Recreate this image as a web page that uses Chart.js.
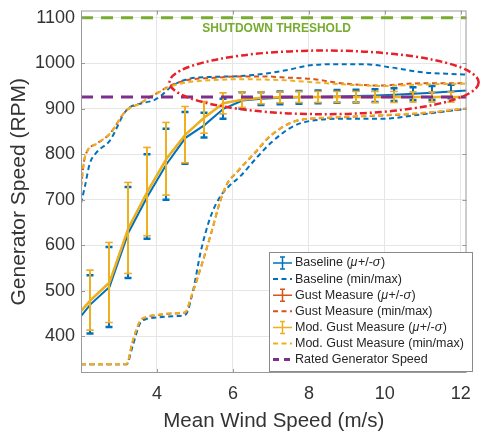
<!DOCTYPE html>
<html>
<head>
<meta charset="utf-8">
<script src="https://cdn.jsdelivr.net/npm/chart.js@4.4.1/dist/chart.umd.min.js"></script>
<style>
html, body { margin: 0; padding: 0; background: #fff; }
#wrap { width: 481px; height: 432px; }
</style>
</head>
<body>
<div id="wrap"><canvas id="myChart" width="481" height="432"></canvas></div>
<script>
// wind speed bins (first and last are the plot edges, no error bar there)
let windSpeed = [2, 2.25, 2.75, 3.25, 3.75, 4.25, 4.75, 5.25, 5.75, 6.25, 6.75, 7.25, 7.75, 8.25, 8.75, 9.25, 9.75, 10.25, 10.75, 11.25, 11.75, 12.15]

let baseMean = [444, 470, 508, 628, 707, 778, 836, 864, 900, 918, 922, 924, 925, 926, 927, 928, 929, 931, 933, 935, 938, 940]
let baseStd = [null, 64, 88, 100, 93, 78, 57, 27, 22, 18, 14, 14, 14, 14, 14, 14, 14, 14, 14, 15, 15, null]
// gust measure mean sits under the modified one in the picture
let gustMean = [455, 479, 518, 638, 718, 790, 843, 881, 912, 920, 924, 925, 926, 926, 926, 926, 926, 926, 926, 926, 926, 926]
let gustStd = [null, 66, 88, 100, 97, 80, 62, 35, 23, 17, 13, 12, 12, 12, 12, 12, 12, 12, 11, 11, 11, null]
let modMean = [455, 479, 518, 638, 718, 790, 843, 881, 912, 920, 924, 925, 926, 926, 926, 926, 926, 926, 926, 926, 926, 926]
let modStd = [null, 66, 88, 100, 97, 80, 62, 35, 23, 17, 13, 12, 12, 12, 12, 12, 12, 12, 11, 11, 11, null]

// min / max envelopes
let baseMaxX = [2, 2.1, 2.23, 2.41, 2.76, 3.19, 3.71, 3.9, 4.1, 4.4, 4.85, 5.5, 6.2, 6.93, 7.54, 7.98, 8.67, 9.45, 10.15, 11.0, 11.9, 12.15]
let baseMax = [692, 728, 779, 804, 830, 896, 914, 918, 928, 950, 966, 970, 972, 978, 987, 995, 998, 998, 991, 980, 976, 975]
let gustMaxX = [2, 2.1, 2.41, 2.76, 3.19, 3.54, 3.8, 3.98, 4.35, 4.8, 5.5, 6.2, 6.9, 7.28, 8.15, 8.67, 9.3, 9.9, 10.6, 11.3, 12.15]
let gustMax = [728, 793, 823, 845, 896, 911, 925, 933, 951, 963, 968, 971, 971, 969, 965, 958, 953, 951, 955, 956, 956]
let modMax = [731, 793, 823, 845, 896, 911, 925, 933, 949, 958, 963, 965, 964, 963, 958, 955, 952, 950, 952, 954, 955]

let baseMinX = [2, 3.2, 3.35, 3.55, 3.7, 4.0, 4.5, 4.75, 4.95, 5.15, 5.4, 5.65, 5.9, 6.2, 6.6, 7.0, 7.6, 8.3, 9.0, 9.9, 11.0, 12.15]
let baseMin = [338, 338, 375, 428, 437, 441, 444, 447, 500, 585, 660, 705, 730, 752, 790, 825, 862, 876, 878, 878, 888, 900]
let gustMinX = [2, 3.2, 3.35, 3.55, 3.7, 4.0, 4.5, 4.75, 4.89, 5.19, 5.45, 5.67, 5.85, 6.1, 6.6, 7.0, 7.7, 8.57, 9.3, 9.9, 11.0, 12.15]
let gustMin = [338, 338, 385, 432, 441, 446, 450, 452, 483, 560, 633, 698, 735, 760, 805, 841, 874, 880, 883, 885, 890, 900]
let modMin = [339, 339, 386, 433, 442, 447, 451, 453, 484, 561, 634, 699, 736, 761, 806, 842, 874, 881, 884, 886, 891, 901]

let ratedSpeed = 926
let shutdownSpeed = 1100
let xRange = [2, 12.15]
let xTickValues = [4, 6, 8, 10, 12]
let yTickValues = [400, 500, 600, 700, 800, 900, 1000, 1100]

let blue = '#0072bd', orange = '#d95319', yellow = '#edb120', purple = '#7e2f8e', green = '#77ac30'
let font = "'Liberation Sans', Arial, Helvetica, sans-serif"

let pts = (xs, ys) => xs.map((x, i) => ({x: x, y: ys[i]}))

let meanLine = (label, ys, std, color, order, width, cap) => ({
    label: label, data: pts(windSpeed, ys), errStd: std, capWidth: cap,
    borderColor: color, borderWidth: width, pointRadius: 0, tension: 0, order: order
})
let envLine = (label, xs, ys, color, order) => ({
    label: label, data: pts(xs, ys), borderColor: color, borderWidth: 2, borderDash: [5, 3.5],
    pointRadius: 0, cubicInterpolationMode: 'monotone', order: order
})

let errorBars = {
    id: 'errorBars',
    afterDatasetDraw(chart, args) {
        let ds = chart.data.datasets[args.index]
        if (!ds.errStd) return
        let ctx = chart.ctx, xs = chart.scales.x, ys = chart.scales.y
        ctx.save()
        ctx.strokeStyle = ds.borderColor
        ds.data.forEach((p, i) => {
            let s = ds.errStd[i]
            if (s == null) return
            let px = Math.round(xs.getPixelForValue(p.x))
            let top = ys.getPixelForValue(p.y + s), bot = ys.getPixelForValue(p.y - s)
            ctx.lineWidth = 2
            ctx.beginPath()
            ctx.moveTo(px, top); ctx.lineTo(px, bot)
            ctx.stroke()
            ctx.lineWidth = ds.capWidth
            ctx.beginPath()
            ctx.moveTo(px - 3.5, top); ctx.lineTo(px + 3.5, top)
            ctx.moveTo(px - 3.5, bot); ctx.lineTo(px + 3.5, bot)
            ctx.stroke()
        })
        ctx.restore()
    }
}

let annotations = {
    id: 'annotations',
    afterDatasetsDraw(chart) {
        let ctx = chart.ctx, xs = chart.scales.x, ys = chart.scales.y, a = chart.chartArea
        ctx.save()
        // axes box with inward ticks
        ctx.strokeStyle = '#9a9a9a'
        ctx.lineWidth = 1
        ctx.strokeRect(a.left + 0.5, a.top + 0.5, a.right - a.left - 1, a.bottom - a.top - 1)
        ctx.beginPath()
        xTickValues.forEach(v => {
            let px = Math.round(xs.getPixelForValue(v)) + 0.5
            ctx.moveTo(px, a.bottom); ctx.lineTo(px, a.bottom - 4)
            ctx.moveTo(px, a.top); ctx.lineTo(px, a.top + 4)
        })
        yTickValues.forEach(v => {
            let py = Math.round(ys.getPixelForValue(v)) + 0.5
            ctx.moveTo(a.left, py); ctx.lineTo(a.left + 4, py)
            ctx.moveTo(a.right, py); ctx.lineTo(a.right - 4, py)
        })
        ctx.stroke()
        // shutdown label
        ctx.fillStyle = green
        ctx.font = 'bold 12px ' + font
        ctx.textAlign = 'center'
        ctx.textBaseline = 'middle'
        ctx.fillText('SHUTDOWN THRESHOLD', xs.getPixelForValue(7.15), ys.getPixelForValue(1077))
        // highlight ellipse
        let cx = xs.getPixelForValue(8.4), cy = ys.getPixelForValue(958)
        let rx = xs.getPixelForValue(8.4 + 4.07) - cx, ry = cy - ys.getPixelForValue(958 + 70)
        ctx.strokeStyle = '#e8202a'
        ctx.lineWidth = 2.5
        ctx.setLineDash([7, 3, 2, 3])
        ctx.beginPath()
        ctx.ellipse(cx, cy, rx, ry, 0, 0, Math.PI * 2)
        ctx.stroke()
        ctx.restore()
    }
}

let legendItems = [
    {kind: 'bar', color: blue, text: ['Baseline (', 'μ', '+/-', 'σ', ')']},
    {kind: 'dash', color: blue, text: ['Baseline (min/max)']},
    {kind: 'bar', color: orange, text: ['Gust Measure (', 'μ', '+/-', 'σ', ')']},
    {kind: 'dash', color: orange, text: ['Gust Measure (min/max)']},
    {kind: 'bar', color: yellow, text: ['Mod. Gust Measure (', 'μ', '+/-', 'σ', ')']},
    {kind: 'dash', color: yellow, text: ['Mod. Gust Measure (min/max)']},
    {kind: 'rated', color: purple, text: ['Rated Generator Speed']}
]

let boxLegend = {
    id: 'boxLegend',
    afterDraw(chart) {
        let ctx = chart.ctx
        let left = 269, top = 252, w = 203, h = 119, rowH = 16.1
        ctx.save()
        ctx.fillStyle = '#fff'
        ctx.fillRect(left, top, w, h)
        ctx.strokeStyle = '#8a8a8a'
        ctx.lineWidth = 1
        ctx.strokeRect(left + 0.5, top + 0.5, w, h)
        legendItems.forEach((it, i) => {
            let cy = top + 11 + i * rowH
            let x0 = left + 4, x1 = left + 23
            ctx.strokeStyle = it.color
            if (it.kind == 'bar') {
                ctx.lineWidth = 1.5
                ctx.beginPath()
                ctx.moveTo(x0, cy); ctx.lineTo(x1, cy)
                let mx = (x0 + x1) / 2
                ctx.moveTo(mx, cy - 6); ctx.lineTo(mx, cy + 6)
                ctx.moveTo(mx - 2.5, cy - 6); ctx.lineTo(mx + 2.5, cy - 6)
                ctx.moveTo(mx - 2.5, cy + 6); ctx.lineTo(mx + 2.5, cy + 6)
                ctx.stroke()
            } else {
                ctx.lineWidth = it.kind == 'rated' ? 3 : 2
                ctx.setLineDash(it.kind == 'rated' ? [6, 5] : [5, 3.5])
                ctx.beginPath()
                ctx.moveTo(x0, cy); ctx.lineTo(x1, cy)
                ctx.stroke()
                ctx.setLineDash([])
            }
            let tx = left + 26
            ctx.fillStyle = '#262626'
            ctx.textBaseline = 'middle'
            ctx.textAlign = 'left'
            it.text.forEach(seg => {
                let greek = seg == 'μ' || seg == 'σ'
                ctx.font = (greek ? 'italic ' : '') + '12.5px ' + font
                ctx.fillText(seg, tx, cy)
                tx += ctx.measureText(seg).width + (greek ? 0.5 : 0)
            })
        })
        ctx.restore()
    }
}

Chart.defaults.font.family = font

let ctx = document.getElementById('myChart').getContext('2d')
let chart = new Chart(ctx, {
    type: 'line',
    data: {
        datasets: [
            {label: 'Rated Generator Speed', data: pts(xRange, [ratedSpeed, ratedSpeed]), borderColor: purple, borderWidth: 3, borderDash: [12, 8], pointRadius: 0, order: 0},
            {label: 'Shutdown', data: pts(xRange, [shutdownSpeed, shutdownSpeed]), borderColor: green, borderWidth: 3, borderDash: [12, 8], pointRadius: 0, order: 0},
            envLine('Mod. Gust Measure (min/max) max', gustMaxX, modMax, yellow, 1),
            envLine('Mod. Gust Measure (min/max) min', gustMinX, modMin, yellow, 1),
            meanLine('Mod. Gust Measure', modMean, modStd, yellow, 2, 2.5, 1.5),
            envLine('Gust Measure (min/max) max', gustMaxX, gustMax, orange, 3),
            envLine('Gust Measure (min/max) min', gustMinX, gustMin, orange, 3),
            meanLine('Gust Measure', gustMean, gustStd, orange, 4, 1.5, 1),
            envLine('Baseline (min/max) max', baseMaxX, baseMax, blue, 5),
            envLine('Baseline (min/max) min', baseMinX, baseMin, blue, 5),
            meanLine('Baseline', baseMean, baseStd, blue, 6, 2, 2.5)
        ]
    },
    options: {
        responsive: false,
        animation: false,
        layout: {padding: {left: 0, right: 11, top: 9.5, bottom: 0}},
        plugins: {legend: {display: false}, tooltip: {enabled: false}},
        scales: {
            x: {
                type: 'linear', min: xRange[0], max: xRange[1],
                afterBuildTicks: s => { s.ticks = xTickValues.map(v => ({value: v})) },
                afterFit: s => { s.height = 59 },
                grid: {color: '#e6e6e6', drawTicks: false},
                border: {display: false},
                ticks: {color: '#333', padding: 10, font: {size: 18}, maxRotation: 0, callback: v => String(v)},
                title: {display: true, text: 'Mean Wind Speed (m/s)', color: '#333', font: {size: 20.5, lineHeight: 1.2}, padding: {top: 0, bottom: -2}}
            },
            y: {
                type: 'linear', min: 319, max: 1116,
                afterBuildTicks: s => { s.ticks = yTickValues.map(v => ({value: v})) },
                afterFit: s => { s.width = 81 },
                grid: {color: '#e6e6e6', drawTicks: false},
                border: {display: false},
                ticks: {color: '#333', padding: 6, font: {size: 18, lineHeight: 0.5}, callback: v => String(v)},
                title: {display: true, text: 'Generator Speed (RPM)', color: '#333', font: {size: 21, lineHeight: 1.2}, padding: {top: 7, bottom: 0}}
            }
        }
    },
    plugins: [errorBars, annotations, boxLegend]
})
</script>
</body>
</html>
